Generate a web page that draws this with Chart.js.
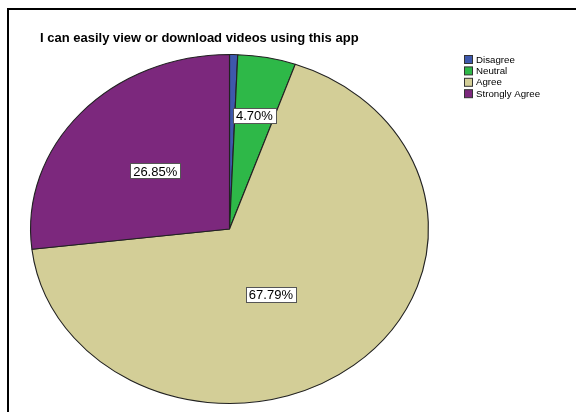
<!DOCTYPE html>
<html>
<head>
<meta charset="utf-8">
<script src="https://cdn.jsdelivr.net/npm/chart.js@4"></script>
<style>
  html, body { margin: 0; padding: 0; background: #fff; overflow: hidden; }
  #wrap { position: relative; width: 576px; height: 412px; }
  #frame {
    position: absolute; left: 7px; top: 8px; width: 700px; height: 600px;
    border-left: 2px solid #000; border-top: 2px solid #000; pointer-events: none;
  }
</style>
</head>
<body>
<div id="wrap">
  <canvas id="pie" width="576" height="412"></canvas>
  <div id="frame"></div>
</div>
<script>
const categories = ['Disagree', 'Neutral', 'Agree', 'Strongly Agree'];
const percents = [0.66, 4.70, 67.79, 26.85];
const sliceColors = ['#3E58AC', '#2EB848', '#D3CE97', '#7C287D'];

Chart.defaults.font.family = 'Arial, "Liberation Sans", sans-serif';

// pie is squashed into an ellipse: stretch x around the centre
const stretchX = 199.5 / 175;

const ellipsePlugin = {
    id: 'ellipse',
    beforeDatasetsDraw(chart) {
        const arc = chart.getDatasetMeta(0).data[0];
        const ctx = chart.ctx;
        ctx.save();
        ctx.translate(arc.x, arc.y);
        ctx.scale(stretchX, 1);
        ctx.translate(-arc.x, -arc.y);
    },
    afterDatasetsDraw(chart) {
        chart.ctx.restore();
    }
};

// boxed percentage labels inside the slices
const sliceLabels = {
    id: 'sliceLabels',
    afterDatasetsDraw(chart, args, opts) {
        const ctx = chart.ctx;
        const meta = chart.getDatasetMeta(0);
        ctx.save();
        ctx.font = '13px Arial, "Liberation Sans"';
        ctx.textAlign = 'center';
        ctx.textBaseline = 'middle';
        meta.data.forEach((arc, i) => {
            const value = percents[i];
            if (value < 1) return;
            const p = arc.getProps(['x', 'y', 'startAngle', 'endAngle', 'outerRadius'], true);
            const a = (p.startAngle + p.endAngle) / 2 + opts.turn[i];
            const r = p.outerRadius * opts.radius[i];
            const x = p.x + Math.cos(a) * r * stretchX;
            const y = p.y + Math.sin(a) * r;
            const text = value.toFixed(2) + '%';
            const w = ctx.measureText(text).width + 6;
            const h = 15;
            ctx.fillStyle = '#fff';
            ctx.fillRect(Math.round(x - w / 2) + 0.5, Math.round(y - h / 2) + 0.5, Math.round(w), h);
            ctx.strokeStyle = '#555';
            ctx.lineWidth = 1;
            ctx.strokeRect(Math.round(x - w / 2) + 0.5, Math.round(y - h / 2) + 0.5, Math.round(w), h);
            ctx.fillStyle = '#000';
            ctx.fillText(text, x, y + 1);
        });
        ctx.restore();
    }
};

// small legend in the top right corner
const cornerLegend = {
    id: 'cornerLegend',
    afterDraw(chart, args, opts) {
        const ctx = chart.ctx;
        ctx.save();
        ctx.font = '9.7px Arial, "Liberation Sans"';
        ctx.textBaseline = 'middle';
        categories.forEach((name, i) => {
            const y = opts.top + i * opts.step;
            ctx.fillStyle = sliceColors[i];
            ctx.fillRect(opts.left + 0.5, y + 0.5, 8, 8);
            ctx.strokeStyle = '#333';
            ctx.lineWidth = 1;
            ctx.strokeRect(opts.left + 0.5, y + 0.5, 8, 8);
            ctx.fillStyle = '#000';
            ctx.fillText(name, opts.left + 12, y + 5);
        });
        ctx.restore();
    }
};

new Chart(document.getElementById('pie'), {
    type: 'pie',
    data: {
        labels: categories,
        datasets: [{
            data: percents,
            backgroundColor: sliceColors,
            borderColor: '#222',
            borderWidth: 1
        }]
    },
    options: {
        responsive: false,
        animation: false,
        events: [],
        layout: { padding: { top: 0, left: 40, right: 157, bottom: 8 } },
        plugins: {
            legend: { display: false },
            tooltip: { enabled: false },
            title: {
                display: true,
                text: 'I can easily view or download videos using this app',
                align: 'start',
                color: '#000',
                font: { size: 13, weight: 'bold' },
                padding: { top: 30.5, bottom: 7.9 }
            },
            sliceLabels: { radius: [0, 0.665, 0.43, 0.5], turn: [0, 0, 0.17, 0] },
            cornerLegend: { left: 464, top: 55, step: 11.4 }
        }
    },
    plugins: [ellipsePlugin, sliceLabels, cornerLegend]
});
</script>
</body>
</html>
